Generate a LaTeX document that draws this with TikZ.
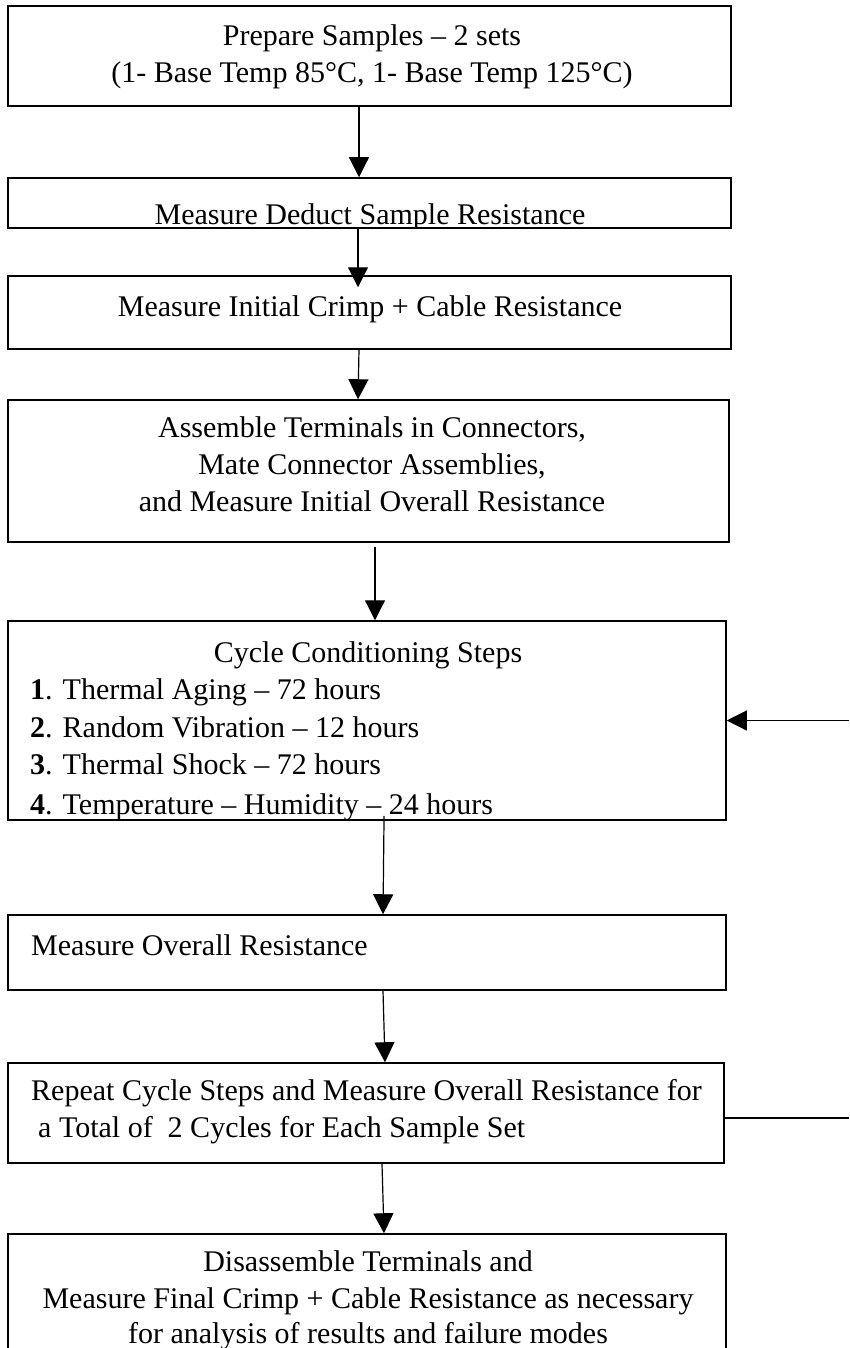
\documentclass[tikz,border=0pt]{standalone}
\usepackage{fontspec}
\setmainfont{Liberation Serif}
\usetikzlibrary{arrows.meta}
\tikzset{
  stepbox/.style={draw, line width=1.5pt, inner sep=0pt, rectangle},
  steptext/.style={anchor=base, inner sep=0pt, font=\fontsize{30pt}{37.5pt}\selectfont},
  steplist/.style={steptext, anchor=base west},
  flow/.style={line width=1.2pt, -{Triangle[length=20pt,width=20pt]}},
}
\begin{document}
\begin{tikzpicture}[x=1pt,y=-1pt]
\useasboundingbox (0,0) rectangle (849,1348);
% boxes
\node[stepbox, minimum width=723pt, minimum height=100pt] (prep) at (369.5,56) {};
\node[stepbox, minimum width=723pt, minimum height=50pt] (deduct) at (369.5,203) {};
\node[stepbox, minimum width=723pt, minimum height=73pt] (initial) at (369.5,312.5) {};
\node[stepbox, minimum width=721pt, minimum height=142pt] (assemble) at (368.5,471) {};
\node[stepbox, minimum width=718pt, minimum height=199pt] (cycle) at (367,720.5) {};
\node[stepbox, minimum width=718pt, minimum height=75pt] (overall) at (367,952.5) {};
\node[stepbox, minimum width=716pt, minimum height=100pt] (repeat) at (366,1113) {};
\node[stepbox, minimum width=718pt, minimum height=140pt] (final) at (367,1304) {};
% texts
\node[steptext] (prepA) at (372,46) {Prepare Samples – 2 sets};
\node[steptext] (prepB) at (372,83) {(1- Base Temp 85°C, 1- Base Temp 125°C)};
\begin{scope}
\clip (deduct.south west) rectangle (deduct.north east);
\node[steptext] (deductA) at (370,225) {Measure Deduct Sample Resistance};
\end{scope}
\node[steptext] (initialA) at (370,316) {Measure Initial Crimp + Cable Resistance};
\node[steptext] (assembleA) at (372,437) {Assemble Terminals in Connectors,};
\node[steptext] (assembleB) at (372,474) {Mate Connector Assemblies,};
\node[steptext] (assembleC) at (372,511) {and Measure Initial Overall Resistance};
\node[steptext] (cycleA) at (368,662) {Cycle Conditioning Steps};
\begin{scope}
\clip (cycle.south west) rectangle (cycle.north east);
\node[steplist] (cycleB) at (30,699.5) {\textbf{1}. Thermal Aging – 72 hours};
\node[steplist] (cycleC) at (30,737) {\textbf{2}. Random Vibration – 12 hours};
\node[steplist] (cycleD) at (30,774.5) {\textbf{3}. Thermal Shock – 72 hours};
\node[steplist] (cycleE) at (30,814) {\textbf{4}. Temperature – Humidity – 24 hours};
\end{scope}
\node[steplist] (overallA) at (31,955) {Measure Overall Resistance};
\node[steplist] (repeatA) at (31,1100) {Repeat Cycle Steps and Measure Overall Resistance for};
\node[steplist] (repeatB) at (38,1137) {a Total of\ \ 2 Cycles for Each Sample Set};
\node[steptext] (finalA) at (368,1271) {Disassemble Terminals and};
\node[steptext] (finalB) at (368,1308.5) {Measure Final Crimp + Cable Resistance as necessary};
\node[steptext] (finalC) at (368,1343) {for analysis of results and failure modes};
% connectors
\draw[flow] ([xshift=-10.5pt]prep.south) -- ([xshift=-10.5pt]deduct.north);
\draw[flow, shorten >=-12pt] ([xshift=-11.5pt]deduct.south) -- ([xshift=-11.5pt]initial.north);
\draw[flow] ([xshift=-10.5pt]initial.south) -- ([xshift=-10.5pt]assemble.north);
\draw[flow, shorten <=4pt] ([xshift=6.5pt]assemble.south) -- ([xshift=8pt]cycle.north);
\draw[flow, shorten <=-5pt] ([xshift=17pt]cycle.south) -- ([xshift=16pt]overall.north);
\draw[flow] ([xshift=16pt]overall.south) -- ([xshift=19pt]repeat.north);
\draw[flow] ([xshift=16pt]repeat.south) -- ([xshift=17pt]final.north);
\coordinate (loopin) at (849,720.5);
\coordinate (loopout) at (849,1118);
\draw[flow] (loopin) -- (cycle.east);
\draw[line width=1.2pt] (repeat.east |- loopout) -- (loopout);
\end{tikzpicture}
\end{document}
